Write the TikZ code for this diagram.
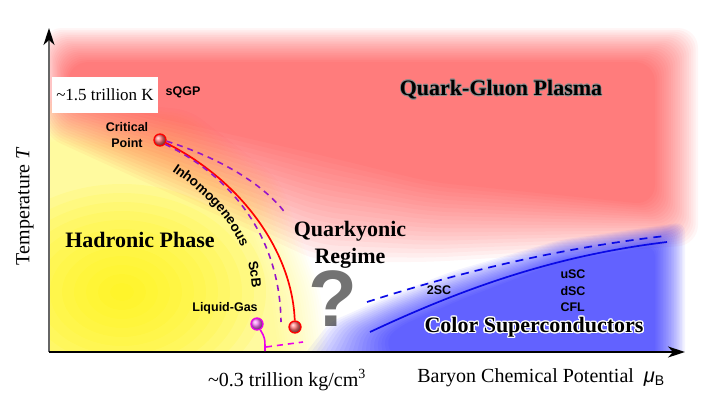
\documentclass[tikz,border=0pt]{standalone}
\usepackage{fontspec}
\setmainfont{Liberation Serif}
\setsansfont{Liberation Sans}
\usepackage[copies]{contour}
\usetikzlibrary{arrows.meta,decorations.text}
\definecolor{cbpurple}{RGB}{150,20,200}
\definecolor{lgmagenta}{RGB}{235,0,235}
\definecolor{scblue}{RGB}{10,10,230}

\begin{document}
\begin{tikzpicture}[x=1pt,y=-1pt,
    phase/.style={font=\fontsize{22}{27}\selectfont\bfseries, align=center},
    tag/.style={font=\sffamily\bfseries\fontsize{12.5}{16.5}\selectfont},
    axlab/.style={font=\fontsize{20}{24}\selectfont},
    dot/.style={circle, draw=#1, line width=1.3pt, ball color=#1!55, minimum size=12pt, inner sep=0pt},
    bound/.style={line width=1.7pt},
    pdash/.style={cbpurple, line width=1.6pt, dash pattern=on 6pt off 5pt}]
    \useasboundingbox (0,0) rectangle (720,405);

    % 背景: 各相区域的渐变色块
    \begin{scope}
        \clip (50,0) rectangle (720,351);
        \foreach \d [evaluate=\d as \t using \d/19] in {0,...,19}
            \fill[yellow, opacity=.022, rounded corners=15]
                (42,95+45*\t) -- (190-30*\t,110+40*\t) -- (280-40*\t,180+20*\t)
                -- (320-50*\t,290) -- (330-50*\t,360) -- (42,360) -- cycle;
        \foreach \r in {1,...,12}
            \fill[yellow, opacity=.1] (122,292) ellipse ({12*\r} and {9*\r});
        \foreach \d [evaluate=\d as \t using \d/19] in {0,...,19}
            \fill[red, opacity=.034, rounded corners=20]
                (42+26*\t,28+34*\t) -- (698-43*\t,28+34*\t) -- (698-43*\t,245-40*\t)
                -- (430,262-80*\t) -- (320,262-107*\t) -- (42+26*\t,135-38*\t) -- cycle;
        \foreach \d [evaluate=\d as \t using \d/19] in {0,...,19}
            \fill[blue, opacity=.047, rounded corners=10]
                (300+95*\t,360) -- (330+55*\t,322+18*\t) -- (380+20*\t,300+26*\t)
                -- (450+10*\t,272+28*\t) -- (560,240+22*\t) -- (685-30*\t,222+24*\t)
                -- (685-30*\t,360) -- cycle;
    \end{scope}

    % 坐标轴
    \coordinate (O) at (49,352);
    \coordinate (ytop) at (49,28);
    \coordinate (xend) at (685,352);
    \draw[line width=1.8pt, black!60, -{Stealth[black,length=17pt,width=11pt,inset=5pt]}] (O) -- (ytop);
    \draw[line width=1.6pt, -{Stealth[length=17pt,width=11pt,inset=5pt]}] (O) -- (xend);
    \node[axlab, rotate=90] (tlab) at (25,206) {Temperature \textit{T}};
    \node[axlab] (mulab) at (541,378) {Baryon Chemical Potential\ \ {\sffamily\itshape μ}\textsubscript{\sffamily B}};
    \node[axlab] (rholab) at (287,380) {\textasciitilde 0.3 trillion kg/cm\textsuperscript{3}};
    \node[fill=white, minimum width=106pt, minimum height=36pt, font=\fontsize{17}{20}\selectfont] (tcrit) at (105,95) {\textasciitilde 1.5 trillion K};
    \node[tag] (sqgp) at (183,92) {sQGP};

    % 相区名称
    \node[phase] (qgp) at (501,90) {\contourlength{0.6pt}\contour{black!45}{Quark-Gluon Plasma}};
    \node[phase] (hadron) at (140,240) {Hadronic Phase};
    \node[phase] (qyonic) at (350,245) {Quarkyonic\\Regime};
    \node[phase] (csc) at (534,328) {\contourlength{1.3pt}\contour{white}{Color Superconductors}};
    \node[font=\sffamily\bfseries\fontsize{80}{80}\selectfont, text=black, text opacity=.55] (qm) at (333,299) {?};

    % 临界点与相边界
    \node[dot=red] (cp) at (160,140) {};
    \node[dot=red] (cpend) at (295,327) {};
    \node[dot=lgmagenta] (lg) at (257,324) {};
    \node[tag, align=center] (cplab) at (127,135) {Critical\\Point};
    \node[tag] (lglab) at (225,308) {Liquid-Gas};
    \coordinate (ib) at (281,322);
    \coordinate (ob) at (286,214);
    \coordinate (lgfoot) at (265,351);
    \coordinate (lda) at (266,347);
    \coordinate (ldb) at (303,342);
    \draw[bound, red] (cp) .. controls (240,180) and (292,250) .. (cpend);
    \draw[pdash] (cp.-40) .. controls (235,178) and (280,240) .. (ib);
    \draw[pdash] (cp.-10) .. controls (220,158) and (265,185) .. (ob);
    \draw[lgmagenta, line width=1.6pt] (lg) .. controls (265,338) .. (lgfoot);
    \draw[lgmagenta, line width=1.6pt, dash pattern=on 6pt off 5pt] (lda) -- (ldb);
    \path[decorate, decoration={text along path, text={|\sffamily\bfseries\fontsize{13.5}{15}\selectfont|Inhomogeneous}}]
        (172,171) .. controls (207,195) and (234,222) .. (247,262);
    \path[decorate, decoration={text along path, text={|\sffamily\bfseries\fontsize{13.5}{15}\selectfont|ScB}}]
        (248,262) .. controls (251,276) .. (253,300);

    % 色超导边界
    \coordinate (sca) at (370,332);
    \coordinate (scb) at (667,242);
    \coordinate (sda) at (367,302);
    \coordinate (sdb) at (665,236);
    \draw[bound, scblue] (sca) .. controls (470,285) and (560,255) .. (scb);
    \draw[bound, scblue, dash pattern=on 8pt off 6pt] (sda) .. controls (460,272) and (560,248) .. (sdb);
    \node[tag] (twosc) at (439,290) {2SC};
    \node[tag, align=left] (cfl) at (573,291) {uSC\\dSC\\CFL};
\end{tikzpicture}
\end{document}
